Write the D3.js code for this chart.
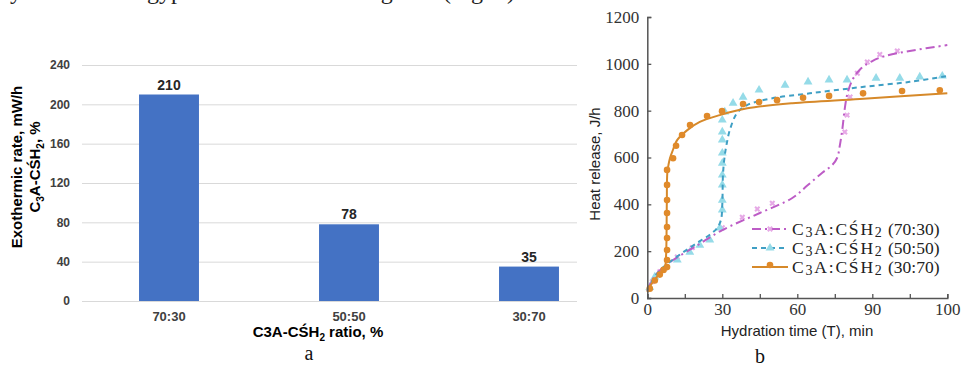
<!DOCTYPE html>
<html>
<head>
<meta charset="utf-8">
<script src="https://cdn.jsdelivr.net/npm/d3@7/dist/d3.min.js"></script>
<style>
  html, body { margin: 0; padding: 0; background: #fff; }
  svg { display: block; }
</style>
</head>
<body>
<svg id="fig" width="968" height="366"></svg>
<script>
// ---- Panel a: exothermic rate by C3A : gypsum ratio ----
const ratioCats = ["70:30", "50:50", "30:70"];
const exoRate = [210, 78, 35];
const rateTicks = [0, 40, 80, 120, 160, 200, 240];

// ---- Panel b: cumulative heat release vs hydration time ----
const timeTicks = [0, 15, 30, 45, 60, 75, 90, 105, 120];
const timeTickLabels = ["0", "", "30", "", "60", "", "90", "", "100"];
const heatTicks = [0, 200, 400, 600, 800, 1000, 1200];
const seriesNames = ["70:30", "50:50", "30:70"];

// fitted curves
const fit7030T = [0, 2, 5, 10, 20, 30, 45, 58, 64, 70, 74, 76, 77, 78, 79, 80, 82, 85, 90, 95, 105, 120];
const fit7030V = [30, 78, 118, 160, 225, 290, 363, 427, 480, 535, 568, 600, 650, 720, 810, 870, 930, 975, 1012, 1033, 1055, 1080];
const fit5050T = [0, 2, 5, 10, 15, 20, 25, 28, 29.5, 30, 30.3, 31, 31.8, 33, 35.9, 39.9, 50, 65, 85, 105, 120];
const fit5050V = [30, 75, 118, 162, 200, 236, 270, 300, 335, 400, 533, 610, 661, 717, 790, 824, 853, 874, 900, 923, 948];
const fit3070T = [0, 1, 2, 3, 4, 5, 6, 7, 7.5, 7.8, 8, 8.5, 9, 10, 12, 16, 21, 29, 40, 58, 85, 120];
const fit3070V = [25, 48, 65, 80, 92, 104, 116, 128, 180, 400, 533, 570, 595, 625, 675, 717, 752, 781, 810, 832, 850, 874];

// measured points
const pts7030T = [2, 5, 12, 18, 30, 38, 44, 50, 79, 79.9, 81.1, 84, 88, 93, 100];
const pts7030V = [70, 112, 175, 215, 300, 345, 380, 405, 709, 781, 858, 960, 1008, 1040, 1055];
const pts5050T = [1, 3, 12, 17, 21, 25, 29, 30, 30, 30, 30, 30, 30, 30, 30, 30, 31, 34.3, 38.3, 44.7, 55.1, 64.3, 72.7, 79.9, 91.5, 101, 109, 118];
const pts5050V = [45, 90, 162, 196, 226, 248, 299, 376, 418, 483, 525, 576, 619, 675, 709, 760, 795, 832, 858, 888, 909, 923, 931, 931, 939, 939, 944, 948];
const pts3070T = [1, 3, 5, 6.5, 7.9, 7.9, 7.9, 7.9, 7.9, 7.9, 7.9, 7.9, 7.9, 10.3, 11.5, 13.9, 17.1, 23.9, 29.9, 38.3, 44.7, 51.9, 62.3, 72.7, 86.3, 101.9, 117];
const pts3070V = [40, 75, 100, 120, 132, 162, 205, 256, 303, 363, 418, 483, 547, 597, 650, 696, 739, 777, 798, 828, 837, 845, 855, 863, 874, 884, 887];

const svg = d3.select("#fig");
const sans = "'Liberation Sans', Arial, sans-serif";
const serif = "'Liberation Serif', 'Times New Roman', serif";

// running text line of the page, cut at the top edge
const bodyWords = [["by", -2], ["gypsum", 147], ["during", 330], ["(Fig. 2)", 443]];
svg.append("g").selectAll("text").data(bodyWords).join("text")
  .attr("x", d => d[1]).attr("y", -1)
  .attr("font-family", serif).attr("font-size", 24).attr("fill", "#222")
  .text(d => d[0]);

// ================= panel a =================
const a = svg.append("g");
const xA = d3.scaleBand().domain(ratioCats).range([79, 619]).paddingInner(0.667).paddingOuter(0.3335);
const yA = d3.scaleLinear().domain([0, 240]).range([301, 65]);

// gridlines
a.append("g")
  .attr("transform", "translate(82,0)")
  .call(d3.axisLeft(yA).tickValues(rateTicks).tickSize(-540).tickFormat(""))
  .call(g => g.select(".domain").remove())
  .call(g => g.selectAll("line").attr("stroke", "#d9d9d9").attr("stroke-width", 1));

// tick labels
a.append("g")
  .attr("transform", "translate(70,0)")
  .call(d3.axisLeft(yA).tickValues(rateTicks).tickSize(0).tickPadding(0))
  .call(g => g.select(".domain").remove())
  .call(g => g.selectAll("text").attr("font-family", sans).attr("font-size", 12)
    .attr("font-weight", "bold").attr("fill", "#404040"));

// bars
const barData = ratioCats.map((c, i) => ({ c, v: exoRate[i] }));
a.append("g").selectAll("rect").data(barData).join("rect")
  .attr("x", d => xA(d.c)).attr("width", xA.bandwidth())
  .attr("y", d => yA(d.v)).attr("height", d => yA(0) - yA(d.v))
  .attr("fill", "#4472c4");

// value labels
a.append("g").selectAll("text").data(barData).join("text")
  .attr("x", d => xA(d.c) + xA.bandwidth() / 2).attr("y", d => yA(d.v) - 5)
  .attr("text-anchor", "middle").attr("font-family", sans).attr("font-size", 14)
  .attr("font-weight", "bold").attr("fill", "#262626")
  .text(d => d.v);

// category labels
a.append("g")
  .attr("transform", "translate(0,301)")
  .call(d3.axisBottom(xA).tickSize(0).tickPadding(11))
  .call(g => g.select(".domain").remove())
  .call(g => g.selectAll("text").attr("font-family", sans).attr("font-size", 13)
    .attr("font-weight", "bold").attr("fill", "#404040"));

// axis titles
const xTitleA = a.append("text").attr("x", 318).attr("y", 337)
  .attr("text-anchor", "middle").attr("font-family", sans).attr("font-size", 15)
  .attr("font-weight", "bold").attr("fill", "#000");
xTitleA.append("tspan").text("C3A-CŚH");
xTitleA.append("tspan").attr("font-size", 10).attr("dy", 4).text("2");
xTitleA.append("tspan").attr("dy", -4).text(" ratio, %");

const yTitleA = a.append("g").attr("transform", "translate(0,167) rotate(-90)");
yTitleA.append("text").attr("x", 0).attr("y", 22)
  .attr("text-anchor", "middle").attr("font-family", sans).attr("font-size", 15)
  .attr("font-weight", "bold").attr("fill", "#000")
  .text("Exothermic rate, mW/h");
const yt2 = yTitleA.append("text").attr("x", 0).attr("y", 40)
  .attr("text-anchor", "middle").attr("font-family", sans).attr("font-size", 15)
  .attr("font-weight", "bold").attr("fill", "#000");
yt2.append("tspan").text("C");
yt2.append("tspan").attr("font-size", 10).attr("dy", 4).text("3");
yt2.append("tspan").attr("dy", -4).text("A-CŚH");
yt2.append("tspan").attr("font-size", 10).attr("dy", 4).text("2");
yt2.append("tspan").attr("dy", -4).text(", %");

svg.append("text").attr("x", 309).attr("y", 360).attr("text-anchor", "middle")
  .attr("font-family", serif).attr("font-size", 20).attr("fill", "#111").text("a");

// ================= panel b =================
svg.append("rect").attr("x", 577).attr("y", 12).attr("width", 391).attr("height", 354).attr("fill", "#fff");
const b = svg.append("g");
const xB = d3.scaleLinear().domain([0, 120]).range([647.3, 947.3]);
const yB = d3.scaleLinear().domain([0, 1200]).range([298, 17]);

const colMag = "#bd5cc6", colMagPt = "#e6a9e6";
const colCyan = "#3f9fc4", colCyanPt = "#95dbe8";
const colOr = "#d6892a", colOrPt = "#e08a2a";

const curve = d3.line().x(d => xB(d[0])).y(d => yB(d[1])).curve(d3.curveCatmullRom.alpha(0.5));
const zip = (t, v) => t.map((d, i) => [d, v[i]]);

// measured points (drawn under the curves)
const star = d3.symbol().type(d3.symbolCross).size(22);
b.append("g").selectAll("path").data(zip(pts7030T, pts7030V)).join("path")
  .attr("d", star).attr("transform", d => `translate(${xB(d[0])},${yB(d[1])}) rotate(45)`)
  .attr("fill", colMagPt);
const tri = d3.symbol().type(d3.symbolTriangle).size(34);
b.append("g").selectAll("path").data(zip(pts5050T, pts5050V)).join("path")
  .attr("d", tri).attr("transform", d => `translate(${xB(d[0])},${yB(d[1])})`)
  .attr("fill", colCyanPt);

// fitted curves
b.append("path").datum(zip(fit7030T, fit7030V)).attr("d", curve)
  .attr("fill", "none").attr("stroke", colMag).attr("stroke-width", 2).attr("stroke-dasharray", "9,4,2,4");
b.append("path").datum(zip(fit5050T, fit5050V)).attr("d", curve)
  .attr("fill", "none").attr("stroke", colCyan).attr("stroke-width", 2).attr("stroke-dasharray", "5,4");
b.append("path").datum(zip(fit3070T, fit3070V)).attr("d", curve)
  .attr("fill", "none").attr("stroke", colOr).attr("stroke-width", 2);

b.append("g").selectAll("circle").data(zip(pts3070T, pts3070V)).join("circle")
  .attr("cx", d => xB(d[0])).attr("cy", d => yB(d[1])).attr("r", 3.3)
  .attr("fill", colOrPt);

// axes
const axX = b.append("g").attr("transform", "translate(0,298)")
  .call(d3.axisBottom(xB).tickValues(timeTicks).tickSize(-4).tickPadding(5)
    .tickFormat((d, i) => timeTickLabels[i]));
const axY = b.append("g").attr("transform", "translate(647.3,0)")
  .call(d3.axisLeft(yB).tickValues(heatTicks).tickSize(-4).tickPadding(8).tickFormat(d3.format("d")));
[axX, axY].forEach(g => {
  g.select(".domain").attr("stroke", "#555").attr("stroke-width", 1.5);
  g.selectAll(".tick line").attr("stroke", "#555").attr("stroke-width", 1.3);
  g.selectAll("text").attr("font-family", serif).attr("font-size", 17).attr("fill", "#333");
});

b.append("text").attr("x", 797).attr("y", 336).attr("text-anchor", "middle")
  .attr("font-family", sans).attr("font-size", 15).attr("fill", "#222")
  .text("Hydration time (T), min");
b.append("text").attr("transform", "translate(600,164) rotate(-90)").attr("text-anchor", "middle")
  .attr("font-family", sans).attr("font-size", 15).attr("fill", "#222")
  .text("Heat release, J/h");

// legend
const legRows = [
  { name: seriesNames[0], col: colMag, pt: colMagPt, dash: "9,4,2,4", mark: "star" },
  { name: seriesNames[1], col: colCyan, pt: colCyanPt, dash: "5,4", mark: "tri" },
  { name: seriesNames[2], col: colOr, pt: colOrPt, dash: null, mark: "dot" }
];
const leg = b.append("g").selectAll("g").data(legRows).join("g")
  .attr("transform", (d, i) => `translate(752,${229 + i * 19})`);
leg.append("line").attr("x1", 0).attr("x2", 36).attr("y1", 0).attr("y2", 0)
  .attr("stroke", d => d.col).attr("stroke-width", 2)
  .attr("stroke-dasharray", d => d.dash);
leg.each(function (d) {
  const g = d3.select(this);
  if (d.mark === "dot") g.append("circle").attr("cx", 18).attr("cy", -2).attr("r", 3.3).attr("fill", d.pt);
  if (d.mark === "tri") g.append("path").attr("d", tri).attr("transform", "translate(18,0)").attr("fill", d.pt);
  if (d.mark === "star") g.append("path").attr("d", star).attr("transform", "translate(18,0) rotate(45)").attr("fill", d.pt);
});
const lt = leg.append("text").attr("x", 40).attr("y", 6)
  .attr("font-family", serif).attr("font-size", 17.5).attr("fill", "#222");
lt.append("tspan").attr("letter-spacing", 1.8).text("C");
lt.append("tspan").attr("font-size", 14).attr("dy", 2).attr("letter-spacing", 1.8).text("3");
lt.append("tspan").attr("dy", -2).attr("letter-spacing", 1.8).text("A:CŚH");
lt.append("tspan").attr("font-size", 14).attr("dy", 2).attr("letter-spacing", 1.8).text("2");
lt.append("tspan").attr("dy", -2).text(d => ` (${d.name})`);

svg.append("text").attr("x", 760).attr("y", 363).attr("text-anchor", "middle")
  .attr("font-family", serif).attr("font-size", 20).attr("fill", "#111").text("b");
</script>
</body>
</html>
